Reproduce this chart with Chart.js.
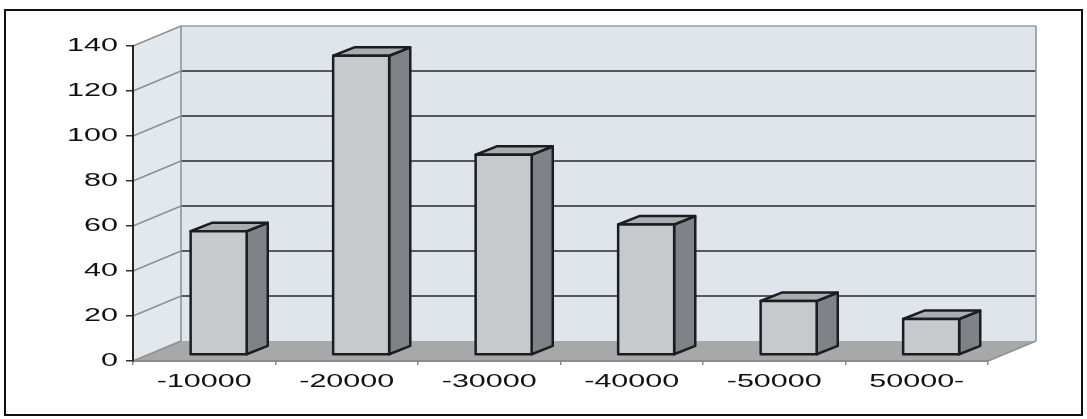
<!DOCTYPE html>
<html>
<head>
<meta charset="utf-8">
<script src="https://cdn.jsdelivr.net/npm/chart.js@4/dist/chart.umd.min.js"></script>
<style>
  body { margin: 0; background: #fff; }
  canvas { display: block; }
</style>
</head>
<body>
<canvas id="chart3d" width="1087" height="419"></canvas>
<script>
// Bar chart drawn with a fake 3D look (walls, floor, boxes)

var categories = ['-10000', '-20000', '-30000', '-40000', '-50000', '50000-'];
var counts = [55, 133, 89, 58, 24, 16];
var yTicks = [0, 20, 40, 60, 80, 100, 120, 140];

// depth of the box the chart sits in
var DX = 48;
var DY = -20;

// the labels in the picture are stretched wide
var LABEL_FONT = '18.5px "Liberation Sans", Arial, sans-serif';
var STRETCH = 1.65;

function wideText(ctx, text, x, y, align) {
    ctx.save();
    ctx.translate(x, y);
    ctx.scale(STRETCH, 1);
    ctx.textAlign = align;
    ctx.textBaseline = 'middle';
    ctx.fillText(text, 0, 0);
    ctx.restore();
}

var excel3d = {
    id: 'excel3d',
    beforeDraw: function (chart) {
        var ctx = chart.ctx;
        var ca = chart.chartArea;
        var y = chart.scales.y;
        var y0 = y.getPixelForValue(0);
        var yTop = y.getPixelForValue(yTicks[yTicks.length - 1]);

        ctx.save();
        ctx.fillStyle = '#fff';
        ctx.fillRect(0, 0, chart.width, chart.height);

        // outer frame
        ctx.strokeStyle = '#111';
        ctx.lineWidth = 2;
        ctx.strokeRect(5, 10, 1077, 405);

        // back wall
        ctx.fillStyle = '#dfe5ea';
        ctx.fillRect(ca.left + DX, yTop + DY, ca.right - ca.left, y0 - yTop);

        // left side wall
        ctx.fillStyle = '#e3e8ec';
        ctx.beginPath();
        ctx.moveTo(ca.left, yTop);
        ctx.lineTo(ca.left + DX, yTop + DY);
        ctx.lineTo(ca.left + DX, y0 + DY);
        ctx.lineTo(ca.left, y0);
        ctx.closePath();
        ctx.fill();

        // floor
        ctx.fillStyle = '#a6a8aa';
        ctx.beginPath();
        ctx.moveTo(ca.left, y0);
        ctx.lineTo(ca.right, y0);
        ctx.lineTo(ca.right + DX, y0 + DY);
        ctx.lineTo(ca.left + DX, y0 + DY);
        ctx.closePath();
        ctx.fill();

        // gridlines on back wall and side wall
        yTicks.forEach(function (v) {
            if (v === 0) return;
            var py = y.getPixelForValue(v);
            var top = v === yTicks[yTicks.length - 1];
            ctx.strokeStyle = '#8c9094';
            ctx.lineWidth = 1.5;
            ctx.beginPath();
            ctx.moveTo(ca.left, py);
            ctx.lineTo(ca.left + DX, py + DY);
            ctx.stroke();
            ctx.strokeStyle = top ? '#9a9ea2' : '#55595d';
            ctx.lineWidth = top ? 1.5 : 2;
            ctx.beginPath();
            ctx.moveTo(ca.left + DX, py + DY);
            ctx.lineTo(ca.right + DX, py + DY);
            ctx.stroke();
        });

        // wall edges
        ctx.strokeStyle = '#8c9094';
        ctx.lineWidth = 1.5;
        ctx.beginPath();
        ctx.moveTo(ca.left + DX, yTop + DY);
        ctx.lineTo(ca.left + DX, y0 + DY);
        ctx.moveTo(ca.right + DX, yTop + DY);
        ctx.lineTo(ca.right + DX, y0 + DY);
        ctx.moveTo(ca.right, y0);
        ctx.lineTo(ca.right + DX, y0 + DY);
        ctx.moveTo(ca.left, y0);
        ctx.lineTo(ca.left + DX, y0 + DY);
        ctx.stroke();
        ctx.restore();
    },
    afterDatasetsDraw: function (chart) {
        var ctx = chart.ctx;
        var meta = chart.getDatasetMeta(0);
        var sx = DX * 0.3, sy = DY * 0.3;
        var bx = DX * 0.44, by = DY * 0.42;
        ctx.save();
        ctx.lineWidth = 2.5;
        ctx.lineJoin = 'round';
        ctx.strokeStyle = '#1b1e21';
        meta.data.forEach(function (el) {
            var l = el.x - el.width / 2 + sx;
            var r = l + el.width;
            var t = el.y + sy;
            var b = el.base + sy;

            // right side
            ctx.fillStyle = '#7f8387';
            ctx.beginPath();
            ctx.moveTo(r, b);
            ctx.lineTo(r, t);
            ctx.lineTo(r + bx, t + by);
            ctx.lineTo(r + bx, b + by);
            ctx.closePath();
            ctx.fill();
            ctx.stroke();

            // top
            ctx.fillStyle = '#a9adb1';
            ctx.beginPath();
            ctx.moveTo(l, t);
            ctx.lineTo(r, t);
            ctx.lineTo(r + bx, t + by);
            ctx.lineTo(l + bx, t + by);
            ctx.closePath();
            ctx.fill();
            ctx.stroke();

            // front
            ctx.fillStyle = '#c7cacd';
            ctx.fillRect(l, t, r - l, b - t);
            ctx.strokeRect(l, t, r - l, b - t);
        });
        ctx.restore();
    },
    afterDraw: function (chart) {
        var ctx = chart.ctx;
        var xs = chart.scales.x;
        var ys = chart.scales.y;
        ctx.save();
        ctx.font = LABEL_FONT;
        ctx.fillStyle = '#111';
        categories.forEach(function (c, i) {
            wideText(ctx, c, xs.getPixelForTick(i), 382, 'center');
        });
        yTicks.forEach(function (v) {
            wideText(ctx, String(v), ys.left + 118, ys.getPixelForValue(v), 'right');
        });
        ctx.restore();
    }
};

var ctx = document.getElementById('chart3d').getContext('2d');
var chart = new Chart(ctx, {
    type: 'bar',

    // The data
    data: {
        labels: categories,
        datasets: [{
            data: counts,
            backgroundColor: 'rgba(0,0,0,0)',
            borderWidth: 0,
            categoryPercentage: 1,
            barPercentage: 0.393
        }]
    },

    // Configuration options
    options: {
        responsive: false,
        animation: false,
        layout: { padding: { top: 46, right: 99, bottom: 0, left: 0 } },
        plugins: {
            legend: { display: false },
            tooltip: { enabled: false }
        },
        scales: {
            x: {
                afterFit: function (scale) { scale.height = 58; },
                grid: { drawOnChartArea: false, tickLength: 4, color: '#8a8a8a', lineWidth: 1.5 },
                border: { color: '#8a8a8a', width: 2 },
                ticks: { display: false }
            },
            y: {
                min: 0,
                max: 140,
                afterFit: function (scale) { scale.width = 133; },
                afterBuildTicks: function (scale) {
                    scale.ticks = yTicks.map(function (v) { return { value: v }; });
                },
                grid: { drawOnChartArea: false, tickLength: 7, color: '#333', lineWidth: 1.5 },
                border: { color: '#222', width: 2 },
                ticks: { display: false }
            }
        }
    },
    plugins: [excel3d]
});
</script>
</body>
</html>
